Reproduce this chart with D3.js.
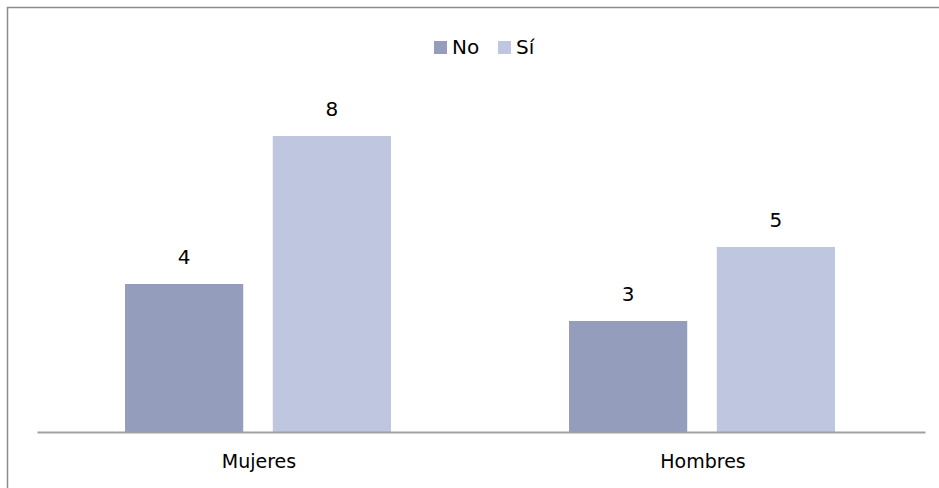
<!DOCTYPE html>
<html>
<head>
<meta charset="utf-8">
<script src="https://cdn.jsdelivr.net/npm/d3@7"></script>
<style>
  body { margin: 0; background: #fff; }
  svg { display: block; font-family: 'DejaVu Sans', sans-serif; }
</style>
</head>
<body>
<div id="chart"></div>
<script>
'use strict';

const categories = ['Mujeres', 'Hombres'];
const seriesNames = ['No', 'Sí'];
const noValues = [4, 3];
const siValues = [8, 5];
const colors = ['#959dbd', '#bfc7e0'];

const width = 939;
const height = 488;
const baseY = 432;

const data = categories.map((c, i) => ({ category: c, values: [noValues[i], siValues[i]] }));

const svg = d3.select('#chart')
  .append('svg')
  .attr('width', width)
  .attr('height', height);

// chart frame (only top/left edges fall inside the picture)
svg.append('rect')
  .attr('x', 7.5)
  .attr('y', 7.5)
  .attr('width', 1000)
  .attr('height', 1000)
  .attr('fill', 'none')
  .attr('stroke', '#8c8c8c')
  .attr('stroke-width', 1.5);

const x = d3.scaleBand(categories, [37, 925]);
const inner = d3.scaleBand(seriesNames, [0, 266]).paddingInner(0.2);
const y = d3.scaleLinear([0, 10], [baseY, 62]);

const groups = svg.append('g')
  .selectAll('g')
  .data(data)
  .join('g')
  .attr('transform', (d) => `translate(${x(d.category) + x.bandwidth() / 2 - 134},0)`);

groups.selectAll('rect')
  .data((d) => d.values.map((v, i) => ({ key: seriesNames[i], value: v, i })))
  .join('rect')
  .attr('x', (d) => inner(d.key))
  .attr('y', (d) => y(d.value))
  .attr('width', inner.bandwidth())
  .attr('height', (d) => baseY - y(d.value))
  .attr('fill', (d) => colors[d.i]);

groups.selectAll('text')
  .data((d) => d.values.map((v, i) => ({ key: seriesNames[i], value: v })))
  .join('text')
  .attr('x', (d) => inner(d.key) + inner.bandwidth() / 2)
  .attr('y', (d) => y(d.value) - 20)
  .attr('text-anchor', 'middle')
  .attr('font-size', 20)
  .attr('fill', '#000')
  .text((d) => d.value);

const xAxis = d3.axisBottom(x).tickSize(0).tickPadding(23);

svg.append('g')
  .attr('transform', `translate(0,${baseY})`)
  .call(xAxis)
  .call((g) => g.select('.domain').attr('stroke', '#a0a0a0').attr('stroke-width', 2))
  .call((g) => g.selectAll('text').attr('font-size', 19).attr('fill', '#000').attr('font-family', 'DejaVu Sans, sans-serif'));

// legend
const legend = svg.append('g').attr('transform', 'translate(434,54)');
const legendPos = [0, 64];
seriesNames.forEach((name, i) => {
  legend.append('rect')
    .attr('x', legendPos[i])
    .attr('y', -13)
    .attr('width', 13)
    .attr('height', 13)
    .attr('fill', colors[i]);
  legend.append('text')
    .attr('x', legendPos[i] + 18)
    .attr('y', 0)
    .attr('font-size', 20)
    .attr('fill', '#000')
    .text(name);
});
</script>
</body>
</html>
